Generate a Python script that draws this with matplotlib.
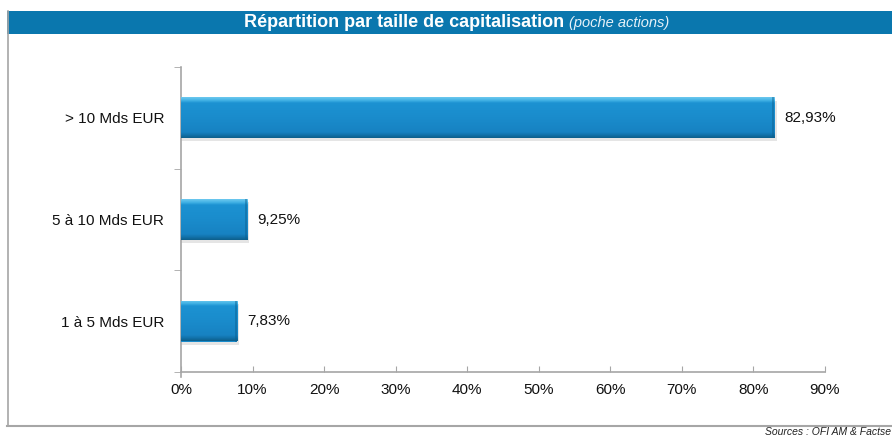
import matplotlib
matplotlib.use("Agg")
import matplotlib.pyplot as plt
import numpy as np
from matplotlib.patches import Rectangle
from matplotlib.colors import LinearSegmentedColormap

plt.rcParams['font.family'] = ['Liberation Sans', 'DejaVu Sans']

categories = ["1 à 5 Mds EUR", "5 à 10 Mds EUR", "> 10 Mds EUR"]
values = [7.83, 9.25, 82.93]
value_labels = ["7,83%", "9,25%", "82,93%"]
xticks = [0, 10, 20, 30, 40, 50, 60, 70, 80, 90]
xtick_labels = ["0%", "10%", "20%", "30%", "40%", "50%", "60%", "70%", "80%", "90%"]

W, H = 892, 438
fig = plt.figure(figsize=(W / 100, H / 100), dpi=100)

def fx(px):
    return px / W

def fy(py):
    return 1 - py / H

# outer frame
grey = "#a6a6a6"
fig.add_artist(plt.Line2D([fx(7.5), fx(7.5)], [fy(11), fy(425)], color=grey, lw=1.2))
fig.add_artist(plt.Line2D([fx(7), fx(892)], [fy(425.5), fy(425.5)], color=grey, lw=1.5))
# title band
fig.add_artist(Rectangle((fx(7), fy(34)), fx(892) - fx(7), fy(11) - fy(34),
                         transform=fig.transFigure, facecolor="#0a77ae", edgecolor="none"))
t1 = fig.text(fx(232), fy(22.5), "Répartition par taille de capitalisation",
              color="white", fontsize=13, fontweight="bold", ha="left", va="center")
fig.canvas.draw()
bb = t1.get_window_extent()
t2 = fig.text(bb.x1 / W + fx(5), fy(23), "(poche actions)", color="#e6f1f8",
              fontsize=10.5, fontstyle="italic", ha="left", va="center")
fig.canvas.draw()
bb2 = t2.get_window_extent()
# recentre the title on x ~ 457
total = bb2.x1 - bb.x0
shift = (457 - total / 2) - bb.x0
t1.set_x((bb.x0 + shift) / W)
t2.set_x((bb2.x0 + shift) / W)

fig.text(fx(891), fy(432), "Sources : OFI AM & Factse", fontsize=7.5, fontstyle="italic",
         ha="right", va="center", color="#222222")

ax = fig.add_axes([fx(181), fy(372), fx(825) - fx(181), fy(67) - fy(372)])
ax.set_xlim(0, 90)
ax.set_ylim(-0.5, 2.5)

ypos = np.arange(len(categories))
bar_h = 0.4
bars = ax.barh(ypos, values, height=bar_h, color="#1a8ccc", edgecolor="none", zorder=3)

cmap = LinearSegmentedColormap.from_list("bev", [
    (0.0, "#0d5f8c"), (0.07, "#1272aa"), (0.14, "#1782c2"), (0.5, "#1a8ccc"),
    (0.86, "#1c92d2"), (0.92, "#3fb0e4"), (1.0, "#6cc8ef")])
grad = np.linspace(0, 1, 100).reshape(-1, 1)
for b, y, v in zip(bars, ypos, values):
    # shadow
    ax.add_patch(Rectangle((0, y - bar_h / 2 - 0.03), v + 0.3, bar_h,
                           facecolor="#000000", alpha=0.10, edgecolor="none", zorder=2))
    im = ax.imshow(grad, extent=(0, v, y - bar_h / 2, y + bar_h / 2), origin="lower",
                   cmap=cmap, aspect="auto", zorder=4, interpolation="bilinear")
    im.set_clip_path(b)
    # right bevel
    ax.add_patch(Rectangle((v - 0.3, y - bar_h / 2), 0.3, bar_h,
                           facecolor="#0b5f8e", alpha=0.45, edgecolor="none", zorder=5))

for y, v, lab in zip(ypos, values, value_labels):
    ax.annotate(lab, (v, y), xytext=(7, 0), textcoords="offset points",
                ha="left", va="center", fontsize=11, color="#111111")

ax.set_yticks(ypos)
ax.set_yticklabels(categories, fontsize=11, color="#111111")
ax.set_yticks([-0.5, 0.5, 1.5, 2.5], minor=True)
ax.tick_params(axis="y", which="major", length=0, pad=12)
ax.tick_params(axis="y", which="minor", length=5, color=grey, direction="out")
ax.set_xticks(xticks)
ax.set_xticklabels(xtick_labels, fontsize=11, color="#111111")
ax.tick_params(axis="x", length=4, color=grey, direction="in", pad=8)

for s in ["top", "right"]:
    ax.spines[s].set_visible(False)
for s in ["left", "bottom"]:
    ax.spines[s].set_color(grey)
    ax.spines[s].set_linewidth(1.2)
ax.spines["left"].set_bounds(-0.55, 2.5)

fig.savefig("out.png", dpi=100)
